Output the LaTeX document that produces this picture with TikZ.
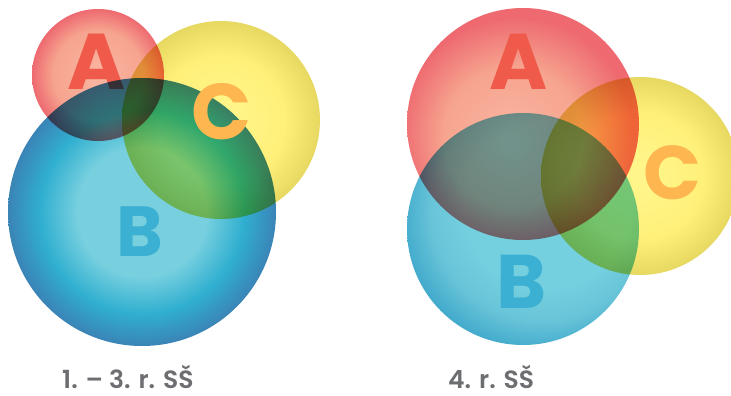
\documentclass[tikz,border=0pt]{standalone}
\usepackage{fontspec}
\setmainfont{Poppins}
\newfontfamily\capfont{Poppins SemiBold}
\usetikzlibrary{shadings}
\definecolor{aIn}{HTML}{F9B6A1}
\definecolor{aMid}{HTML}{F6A48F}
\definecolor{aOut}{HTML}{EE6A70}
\definecolor{bIn}{HTML}{78D0DF}
\definecolor{bMid}{HTML}{30AFD0}
\definecolor{bOut}{HTML}{3A84B6}
\definecolor{bInR}{HTML}{74CFDE}
\definecolor{bMidR}{HTML}{68C4D8}
\definecolor{bOutR}{HTML}{3FA8CB}
\definecolor{cIn}{HTML}{FFF68C}
\definecolor{cMid}{HTML}{FFF07A}
\definecolor{cOut}{HTML}{E7D862}
\definecolor{letA}{HTML}{F05A4A}
\definecolor{letB}{HTML}{3BB0D2}
\definecolor{letC}{HTML}{FDB650}
\definecolor{labgray}{HTML}{6D6E71}
\pgfdeclareradialshading{ballA}{\pgfpoint{0bp}{0bp}}{color(0bp)=(aIn); color(17bp)=(aMid); color(25bp)=(aOut); color(50bp)=(aOut)}
\pgfdeclareradialshading{ballAr}{\pgfpoint{-3bp}{-4bp}}{color(0bp)=(aIn); color(15bp)=(aMid); color(25bp)=(aOut); color(50bp)=(aOut)}
\pgfdeclareradialshading{ballB}{\pgfpoint{0bp}{0bp}}{color(0bp)=(bIn); color(12bp)=(bIn); color(19bp)=(bMid); color(25bp)=(bOut); color(50bp)=(bOut)}
\pgfdeclareradialshading{ballBr}{\pgfpoint{8bp}{8bp}}{color(0bp)=(bInR); color(18bp)=(bInR); color(24bp)=(bMidR); color(30bp)=(bOutR); color(50bp)=(bOutR)}
\pgfdeclareradialshading{ballC}{\pgfpoint{0bp}{0bp}}{color(0bp)=(cIn); color(16bp)=(cMid); color(25bp)=(cOut); color(50bp)=(cOut)}
\tikzset{
  ballstyle/.style={circle, minimum size=#1, inner sep=0pt, blend mode=multiply},
  ballA/.style={ballstyle=#1, shading=ballA},
  ballAr/.style={ballstyle=#1, shading=ballAr},
  ballB/.style={ballstyle=#1, shading=ballB},
  ballBr/.style={ballstyle=#1, shading=ballBr},
  ballC/.style={ballstyle=#1, shading=ballC},
  letter/.style={font=\fontsize{#1}{#1}\selectfont\bfseries, inner sep=0pt, blend mode=normal},
  caption/.style={font=\capfont\fontsize{25}{25}\selectfont, text=labgray, inner sep=0pt, anchor=base west}
}
\begin{document}
\begin{tikzpicture}[x=1pt,y=-1pt]
\useasboundingbox[fill=white] (0,0) rectangle (731,396);
\begin{scope}
\clip (0,0) rectangle (731,396);
% left diagram
\node[ballA=132pt] (lA) at (98,75) {};
\node[letter=79, text=letA] (tlA) at (97,62) {A};
\node[ballC=198pt] (lC) at (221,120) {};
\node[ballB=268pt] (lB) at (142,212) {};
\node[letter=71, text=letB] (tlB) at (140,232) {B};
\node[letter=79, text=letC] (tlC) at (222,112) {C};
% right diagram
\node[ballAr=232pt] (rA) at (523,124) {};
\node[letter=79, text=letA] (trA) at (519,62) {A};
\node[ballBr=232pt] (rB) at (523,229) {};
\node[letter=76, text=letB] (trB) at (522,282) {B};
\node[ballC=198pt] (rC) at (640,176) {};
\node[letter=76, text=letC] (trC) at (672,173) {C};
\end{scope}
\node[caption] (cap1) at (62,388) {1. – 3. r. SŠ};
\node[caption] (cap2) at (448,388) {4. r. SŠ};
\end{tikzpicture}
\end{document}
